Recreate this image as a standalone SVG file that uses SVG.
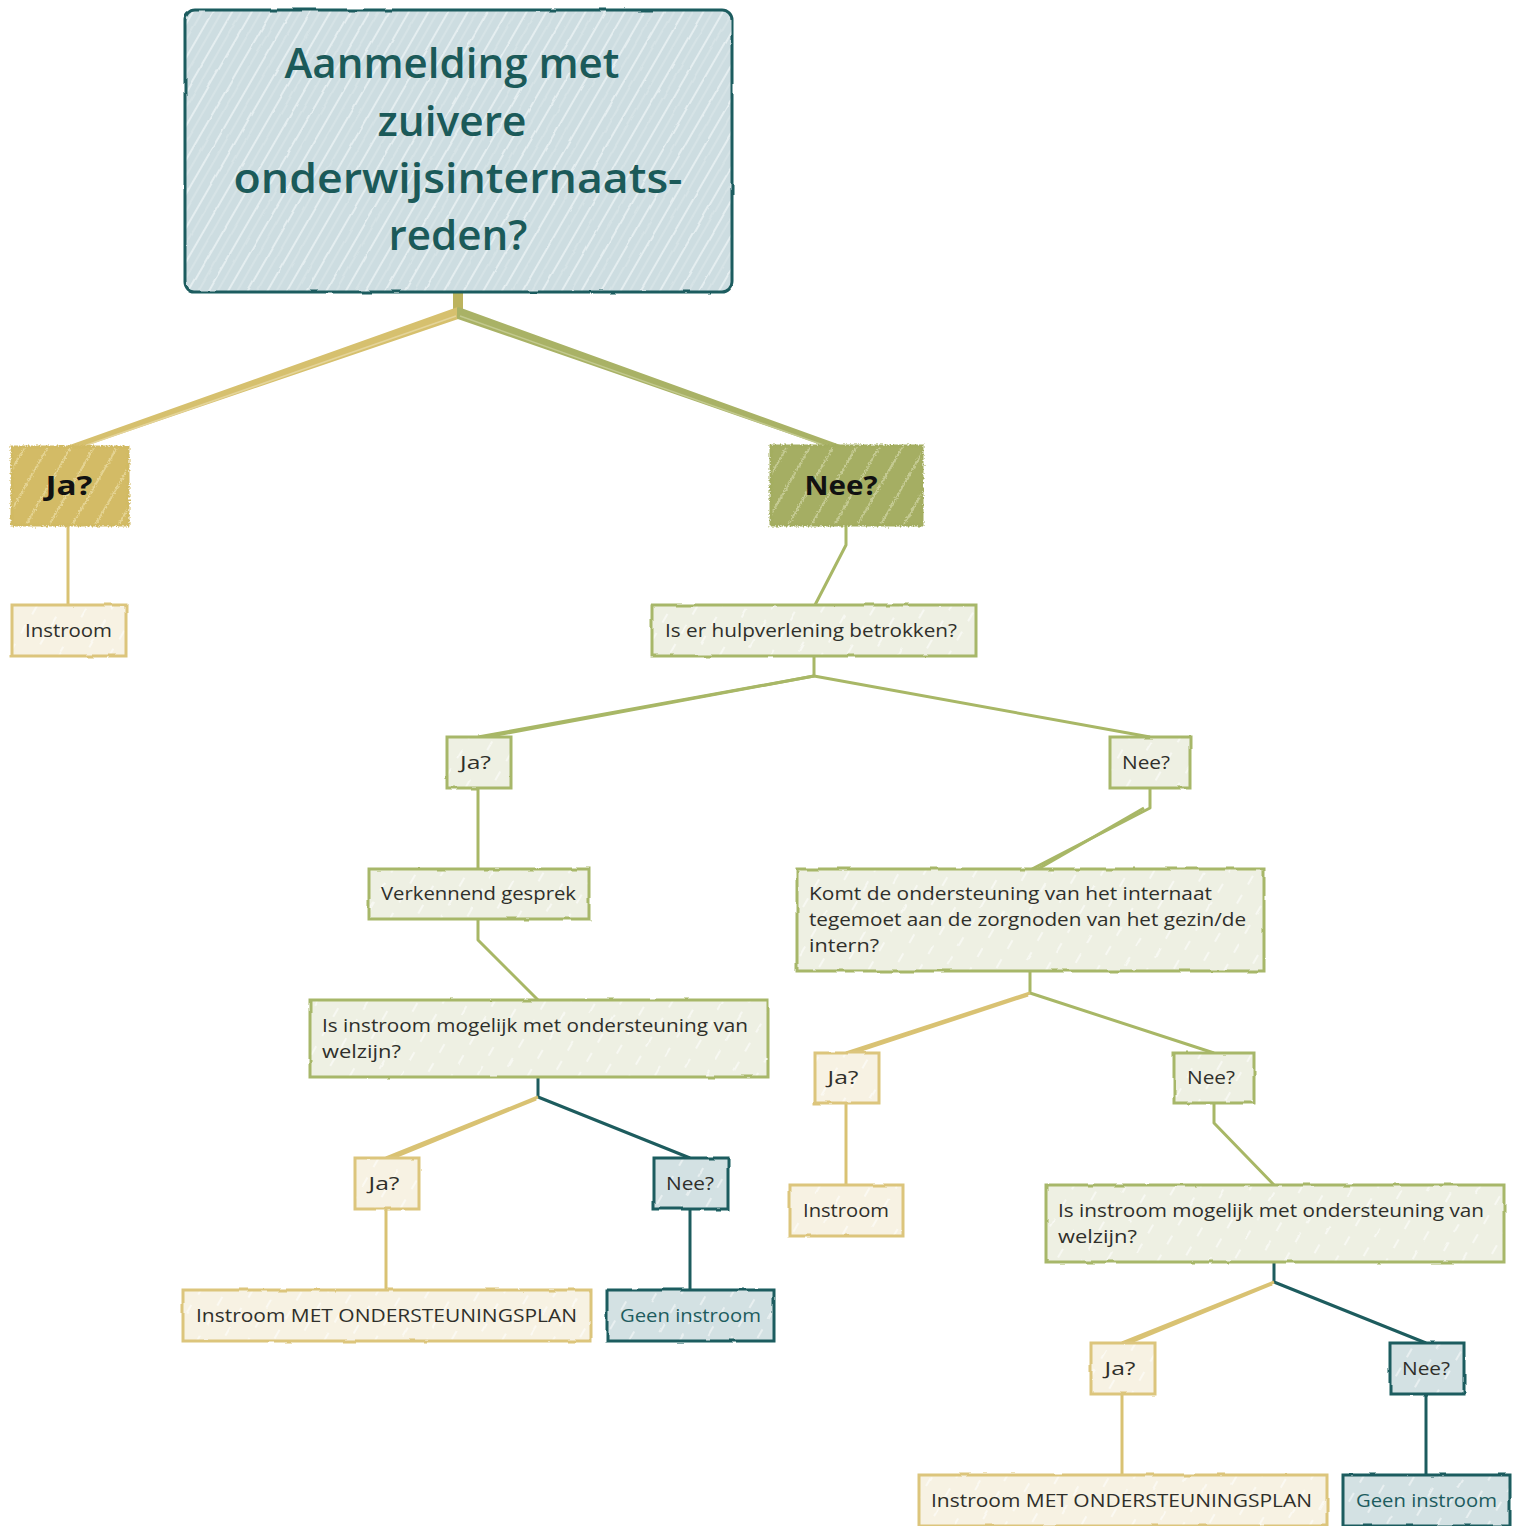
<svg xmlns="http://www.w3.org/2000/svg" width="1521" height="1526" viewBox="0 0 1521 1526">
<defs>
<pattern id="hTeal" width="17" height="20" patternUnits="userSpaceOnUse" patternTransform="rotate(30)">
<rect width="17" height="20" fill="#cddde1"/>
<line x1="3" y1="0" x2="3" y2="20" stroke="#ffffff" stroke-width="1.3" opacity="0.75"/>
<line x1="11" y1="0" x2="11" y2="20" stroke="#ffffff" stroke-width="0.8" opacity="0.45"/>
</pattern>
<pattern id="hGold" width="20" height="20" patternUnits="userSpaceOnUse" patternTransform="rotate(30)">
<rect width="20" height="20" fill="#d3bb66"/>
<line x1="5" y1="0" x2="5" y2="20" stroke="#f6ecc0" stroke-width="1.5" opacity="0.65"/>
</pattern>
<pattern id="hOlive" width="20" height="20" patternUnits="userSpaceOnUse" patternTransform="rotate(30)">
<rect width="20" height="20" fill="#a5ae63"/>
<line x1="5" y1="0" x2="5" y2="20" stroke="#e3e8c3" stroke-width="1.5" opacity="0.65"/>
</pattern>
<pattern id="hCream" width="22" height="22" patternUnits="userSpaceOnUse" patternTransform="rotate(30)">
<rect width="22" height="22" fill="#f7f2e3"/>
<line x1="5" y1="0" x2="5" y2="10" stroke="#ffffff" stroke-width="1.2" opacity="0.9"/>
</pattern>
<pattern id="hGreen" width="22" height="22" patternUnits="userSpaceOnUse" patternTransform="rotate(30)">
<rect width="22" height="22" fill="#eef0e3"/>
<line x1="5" y1="0" x2="5" y2="10" stroke="#ffffff" stroke-width="1.2" opacity="0.9"/>
</pattern>
<pattern id="hBlue" width="22" height="22" patternUnits="userSpaceOnUse" patternTransform="rotate(30)">
<rect width="22" height="22" fill="#d3e1e3"/>
<line x1="5" y1="0" x2="5" y2="10" stroke="#ffffff" stroke-width="1.2" opacity="0.8"/>
</pattern>
<filter id="rough" x="-5%" y="-5%" width="110%" height="110%">
<feTurbulence type="fractalNoise" baseFrequency="0.05" numOctaves="2" seed="4"/>
<feDisplacementMap in="SourceGraphic" scale="2.5" xChannelSelector="R" yChannelSelector="G"/>
</filter>
<filter id="jag" x="-8%" y="-8%" width="116%" height="116%">
<feTurbulence type="fractalNoise" baseFrequency="0.6" numOctaves="1" seed="7"/>
<feDisplacementMap in="SourceGraphic" scale="5" xChannelSelector="R" yChannelSelector="G"/>
</filter>
</defs>
<style>
.t{font-family:"Open Sans","Noto Sans","DejaVu Sans",sans-serif;font-size:19px;fill:#2f2f2a}
.tc{text-anchor:middle}
.title{font-family:"Open Sans","Noto Sans",sans-serif;font-size:42px;font-weight:600;fill:#1b5a59;text-anchor:middle}
.big{font-family:"Open Sans","Noto Sans",sans-serif;font-size:27px;font-weight:700;fill:#111;text-anchor:middle}
.cream{fill:url(#hCream);stroke:#dcc57c;stroke-width:3}
.green{fill:url(#hGreen);stroke:#a7b769;stroke-width:3}
.blue{fill:url(#hBlue);stroke:#1d5c5e;stroke-width:3}
.cg{fill:none;stroke:#d9c273;stroke-width:3;stroke-linejoin:round}
.cv{fill:none;stroke:#a8b766;stroke-width:3;stroke-linejoin:round}
.ct{fill:none;stroke:#1d5c5e;stroke-width:3;stroke-linejoin:round}
</style>

<g id="connectors">
<path d="M458 292 L458 312" fill="none" stroke="#bcb35e" stroke-width="10"/>
<path d="M458 308 L70 446 L82 446 L458 318 Z" fill="#d6c06e" stroke="#d6c06e" stroke-width="2" stroke-linejoin="round"/>
<path d="M456 316 L84 446" fill="none" stroke="#e4d49a" stroke-width="1.5"/>
<path d="M458 308 L840 446 L828 446 L458 318 Z" fill="#a9b266" stroke="#a9b266" stroke-width="2" stroke-linejoin="round"/>
<path d="M460 316 L826 446" fill="none" stroke="#c2c98e" stroke-width="1.5"/>
<path class="cg" d="M68 525 L68 605"/>
<path class="cv" d="M846 525 L846 545 L815 605"/>
<path class="cv" d="M814 656 L814 676 L478 737"/>
<path class="cv" d="M814 676 L486 737"/>
<path class="cv" d="M814 676 L1150 737"/>
<path class="cv" d="M478 788 L478 869"/>
<path class="cv" d="M478 919 L478 940 L538 1000"/>
<path class="ct" d="M538 1077 L538 1097 L690 1158"/>
<path class="cg" d="M538 1097 L386 1158"/>
<path class="cg" d="M536 1099 L392 1158"/>
<path class="cg" d="M386 1209 L386 1290"/>
<path class="ct" d="M690 1209 L690 1290"/>
<path class="cv" d="M1150 788 L1150 808 L1032 869"/>
<path class="cv" d="M1144 808 L1038 869"/>
<path class="cv" d="M1030 971 L1030 993 L1214 1053"/>
<path class="cg" d="M1030 993 L846 1053"/>
<path class="cg" d="M1028 995 L852 1053"/>
<path class="cg" d="M846 1103 L846 1185"/>
<path class="cv" d="M1214 1103 L1214 1123 L1274 1185"/>
<path class="ct" d="M1274 1262 L1274 1282 L1426 1343"/>
<path class="cg" d="M1274 1282 L1122 1343"/>
<path class="cg" d="M1272 1284 L1128 1343"/>
<path class="cg" d="M1122 1394 L1122 1475"/>
<path class="ct" d="M1426 1394 L1426 1475"/>
</g>

<g id="n-title">
<rect x="185" y="10" width="547" height="282" rx="10" fill="url(#hTeal)" stroke="#1d5c5e" stroke-width="3" filter="url(#rough)"/>
<text class="title" x="452" y="78" textLength="335" lengthAdjust="spacingAndGlyphs">Aanmelding met</text>
<text class="title" x="452" y="136" textLength="149" lengthAdjust="spacingAndGlyphs">zuivere</text>
<text class="title" x="458" y="193" textLength="449" lengthAdjust="spacingAndGlyphs">onderwijsinternaats-</text>
<text class="title" x="458" y="250" textLength="139" lengthAdjust="spacingAndGlyphs">reden?</text>
</g>

<g id="n-ja1">
<rect x="12" y="447" width="116" height="78" fill="url(#hGold)" stroke="#d1ba63" stroke-width="3" filter="url(#jag)"/>
<text class="big" x="69" y="495" textLength="47" lengthAdjust="spacingAndGlyphs">Ja?</text>
</g>
<g id="n-nee1">
<rect x="771" y="446" width="151" height="79" fill="url(#hOlive)" stroke="#a3ad61" stroke-width="3" filter="url(#jag)"/>
<text class="big" x="841" y="495" textLength="73" lengthAdjust="spacingAndGlyphs">Nee?</text>
</g>

<g id="n-instroom1">
<rect class="cream" x="12" y="605" width="114" height="51" filter="url(#rough)"/>
<text class="t tc" x="68.5" y="637" textLength="87" lengthAdjust="spacingAndGlyphs">Instroom</text>
</g>

<g id="n-hulp">
<rect class="green" x="652" y="605" width="324" height="51" filter="url(#rough)"/>
<text class="t" x="665" y="637" textLength="292" lengthAdjust="spacingAndGlyphs">Is er hulpverlening betrokken?</text>
</g>

<g id="n-ja2">
<rect class="green" x="447" y="737" width="64" height="51" filter="url(#rough)"/>
<text class="t tc" x="475.5" y="769" textLength="31" lengthAdjust="spacingAndGlyphs">Ja?</text>
</g>
<g id="n-nee2">
<rect class="green" x="1110" y="737" width="80" height="51" filter="url(#rough)"/>
<text class="t tc" x="1146" y="769" textLength="48" lengthAdjust="spacingAndGlyphs">Nee?</text>
</g>

<g id="n-verkennend">
<rect class="green" x="369" y="869" width="220" height="50" filter="url(#rough)"/>
<text class="t tc" x="478.5" y="900" textLength="195" lengthAdjust="spacingAndGlyphs">Verkennend gesprek</text>
</g>

<g id="n-welzijn1">
<rect class="green" x="310" y="1000" width="458" height="77" filter="url(#rough)"/>
<text class="t" x="322" y="1032" textLength="426" lengthAdjust="spacingAndGlyphs">Is instroom mogelijk met ondersteuning van</text>
<text class="t" x="322" y="1058" textLength="79" lengthAdjust="spacingAndGlyphs">welzijn?</text>
</g>

<g id="n-ja3">
<rect class="cream" x="355" y="1158" width="64" height="51" filter="url(#rough)"/>
<text class="t tc" x="384" y="1190" textLength="31" lengthAdjust="spacingAndGlyphs">Ja?</text>
</g>
<g id="n-nee3">
<rect class="blue" x="654" y="1158" width="74" height="51" filter="url(#rough)"/>
<text class="t tc" x="690" y="1190" textLength="48" lengthAdjust="spacingAndGlyphs">Nee?</text>
</g>
<g id="n-plan1">
<rect class="cream" x="183" y="1290" width="408" height="51" filter="url(#rough)"/>
<text class="t tc" x="386.5" y="1322" textLength="381" lengthAdjust="spacingAndGlyphs">Instroom MET ONDERSTEUNINGSPLAN</text>
</g>
<g id="n-geen1">
<rect class="blue" x="607" y="1290" width="167" height="51" filter="url(#rough)"/>
<text class="t tc" x="690.5" y="1322" textLength="141" lengthAdjust="spacingAndGlyphs" style="fill:#1d5c5e">Geen instroom</text>
</g>

<g id="n-komt">
<rect class="green" x="797" y="869" width="467" height="102" filter="url(#rough)"/>
<text class="t" x="809" y="900" textLength="403" lengthAdjust="spacingAndGlyphs">Komt de ondersteuning van het internaat</text>
<text class="t" x="809" y="926" textLength="437" lengthAdjust="spacingAndGlyphs">tegemoet aan de zorgnoden van het gezin/de</text>
<text class="t" x="809" y="952" textLength="70" lengthAdjust="spacingAndGlyphs">intern?</text>
</g>

<g id="n-ja4">
<rect class="cream" x="815" y="1053" width="64" height="50" filter="url(#rough)"/>
<text class="t tc" x="843" y="1084" textLength="31" lengthAdjust="spacingAndGlyphs">Ja?</text>
</g>
<g id="n-nee4">
<rect class="green" x="1174" y="1053" width="80" height="50" filter="url(#rough)"/>
<text class="t tc" x="1211" y="1084" textLength="48" lengthAdjust="spacingAndGlyphs">Nee?</text>
</g>
<g id="n-instroom2">
<rect class="cream" x="790" y="1185" width="113" height="51" filter="url(#rough)"/>
<text class="t tc" x="846" y="1217" textLength="86" lengthAdjust="spacingAndGlyphs">Instroom</text>
</g>

<g id="n-welzijn2">
<rect class="green" x="1046" y="1185" width="458" height="77" filter="url(#rough)"/>
<text class="t" x="1058" y="1217" textLength="426" lengthAdjust="spacingAndGlyphs">Is instroom mogelijk met ondersteuning van</text>
<text class="t" x="1058" y="1243" textLength="79" lengthAdjust="spacingAndGlyphs">welzijn?</text>
</g>

<g id="n-ja5">
<rect class="cream" x="1091" y="1343" width="64" height="51" filter="url(#rough)"/>
<text class="t tc" x="1120" y="1375" textLength="31" lengthAdjust="spacingAndGlyphs">Ja?</text>
</g>
<g id="n-nee5">
<rect class="blue" x="1390" y="1343" width="74" height="51" filter="url(#rough)"/>
<text class="t tc" x="1426" y="1375" textLength="48" lengthAdjust="spacingAndGlyphs">Nee?</text>
</g>
<g id="n-plan2">
<rect class="cream" x="919" y="1475" width="408" height="51" filter="url(#rough)"/>
<text class="t tc" x="1121.5" y="1507" textLength="381" lengthAdjust="spacingAndGlyphs">Instroom MET ONDERSTEUNINGSPLAN</text>
</g>
<g id="n-geen2">
<rect class="blue" x="1343" y="1475" width="167" height="51" filter="url(#rough)"/>
<text class="t tc" x="1426.5" y="1507" textLength="141" lengthAdjust="spacingAndGlyphs" style="fill:#1d5c5e">Geen instroom</text>
</g>
</svg>
